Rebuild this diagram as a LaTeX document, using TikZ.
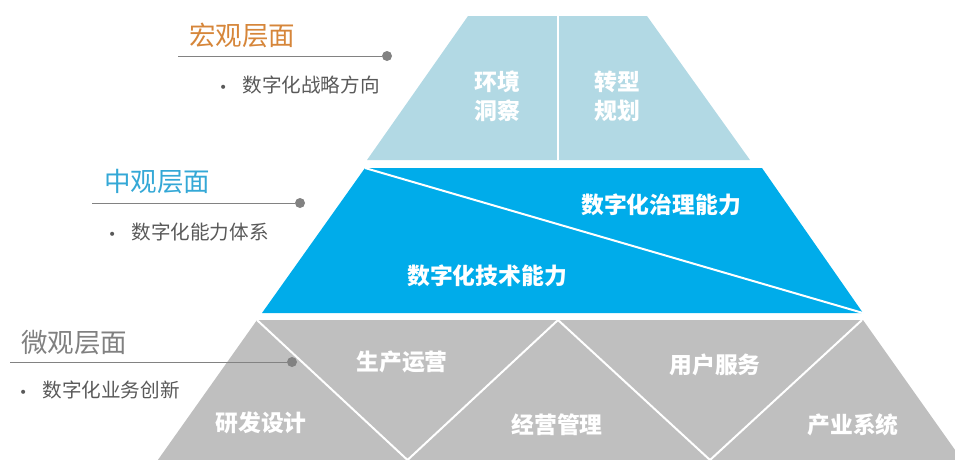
\documentclass[tikz,border=0pt]{standalone}
\usepackage{fontspec}
\setmainfont{Noto Sans CJK SC}
\newfontfamily\cjk{Noto Sans CJK SC}
\newfontfamily\bulfont{DejaVu Sans}
\definecolor{topc}{RGB}{178,217,228}
\definecolor{midc}{RGB}{0,172,234}
\definecolor{botc}{RGB}{191,191,191}
\definecolor{orangec}{RGB}{214,134,58}
\definecolor{bluec}{RGB}{52,168,214}
\definecolor{grayh}{RGB}{128,128,128}
\definecolor{bullc}{RGB}{89,89,89}
\definecolor{linec}{RGB}{130,130,130}
\newcommand{\bul}{{\bulfont\fontsize{14}{14}\selectfont •}\hspace{15pt}}
\tikzset{
  sep/.style={white, line width=2pt},
  tiertext/.style={text=white, font=\cjk\bfseries\fontsize{22.8}{29}\selectfont, align=center, inner sep=0pt},
  heading/.style={anchor=west, inner sep=0pt, font=\cjk\fontsize{26.5}{30}\selectfont},
  bullettext/.style={anchor=west, inner sep=0pt, text=bullc, font=\cjk\fontsize{19.6}{22}\selectfont},
  leader/.style={linec, line width=1pt},
  dot/.style={circle, fill=linec, inner sep=0pt, minimum size=10pt},
}
\begin{document}
\begin{tikzpicture}[x=1pt, y=-1pt]
\useasboundingbox (0,0) rectangle (955,459);
% top tier
\fill[topc] (468,16) -- (647,16) -- (750,160) -- (367,160) -- cycle;
\draw[sep] (558,16) -- (558,160);
% middle tier
\fill[midc] (365,168) -- (762,168) -- (863,313) -- (262,313) -- cycle;
\draw[sep] (365,168) -- (863,313);
% bottom tier
\fill[botc] (257,320) -- (863,320) -- (965,464) -- (155,464) -- cycle;
\draw[sep, line join=miter] (257,320) -- (407.5,460) -- (558,320) -- (710,460) -- (862,320);
% tier texts
\node[tiertext] (t1) at (497,96) {环境\\洞察};
\node[tiertext] (t2) at (617,96) {转型\\规划};
\node[tiertext] (m1) at (661,205) {数字化治理能力};
\node[tiertext] (m2) at (487,276) {数字化技术能力};
\node[tiertext] (b1) at (261,423) {研发设计};
\node[tiertext] (b2) at (402,362) {生产运营};
\node[tiertext] (b3) at (557,425) {经营管理};
\node[tiertext] (b4) at (715,365) {用户服务};
\node[tiertext] (b5) at (853,425) {产业系统};
% left labels
\node[heading, text=orangec] (h1) at (189,35) {宏观层面};
\coordinate (s1) at (178,56);
\node[dot] (d1) at (387,56) {};
\draw[leader] (s1) -- (d1);
\node[bullettext] (c1) at (219,85) {\bul 数字化战略方向};

\node[heading, text=bluec] (h2) at (104,182) {中观层面};
\coordinate (s2) at (92,203);
\node[dot] (d2) at (300,203) {};
\draw[leader] (s2) -- (d2);
\node[bullettext] (c2) at (108,232) {\bul 数字化能力体系};

\node[heading, text=grayh] (h3) at (21,343) {微观层面};
\coordinate (s3) at (10,362);
\node[dot] (d3) at (292,362) {};
\draw[leader] (s3) -- (d3);
\node[bullettext] (c3) at (19,390) {\bul 数字化业务创新};
\end{tikzpicture}
\end{document}
